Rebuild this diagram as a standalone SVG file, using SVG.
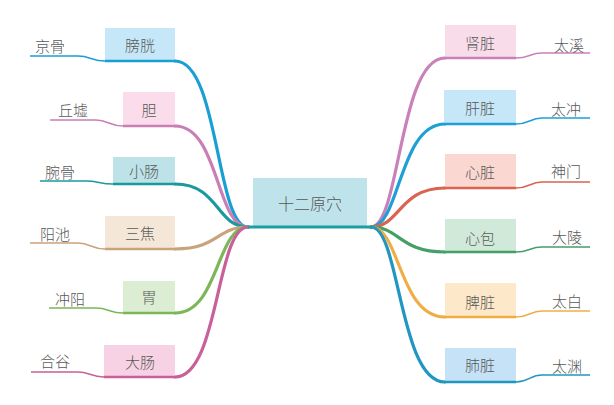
<svg xmlns="http://www.w3.org/2000/svg" width="614" height="405" viewBox="0 0 614 405">
<style>
text{font-family:"Noto Sans CJK SC","Noto Sans",sans-serif;font-size:15px;font-weight:300;fill:#595959;text-anchor:middle;dominant-baseline:central}
.c{fill:none;stroke-width:3.2;stroke-linecap:round}
.u{fill:none;stroke-width:2.6}
.l{fill:none;stroke-width:1.6}
</style>
<rect width="614" height="405" fill="#fff"/>
<g id="connectors">
<!-- left -->
<path class="c" stroke="#1a9fd4" d="M248,227 C216,227 219,61 175,61"/>
<path class="c" stroke="#c97fb5" d="M248,227 C216,227 219,126 175,126"/>
<path class="c" stroke="#1a9a9f" d="M248,227 C216,227 219,184 175,184"/>
<path class="c" stroke="#c9a37b" d="M248,227 C216,227 219,249 175,249"/>
<path class="c" stroke="#7bb757" d="M248,227 C216,227 219,313 175,313"/>
<path class="c" stroke="#c8609a" d="M248,227 C216,227 219,377 175,377"/>
<!-- right -->
<path class="c" stroke="#c981b9" d="M371,227 C400,227 399,58 445,58"/>
<path class="c" stroke="#1ea0d6" d="M371,227 C400,227 399,124 445,124"/>
<path class="c" stroke="#d9644f" d="M371,227 C400,227 399,188 445,188"/>
<path class="c" stroke="#44a067" d="M371,227 C400,227 399,252 445,252"/>
<path class="c" stroke="#efae45" d="M371,227 C400,227 399,317 445,317"/>
<path class="c" stroke="#2096c0" d="M371,227 C400,227 399,382 445,382"/>
<!-- lead lines left -->
<path class="l" stroke="#1a9fd4" d="M105,61 C92,61 90,56 78,56 L30,56"/>
<path class="l" stroke="#c97fb5" d="M123,126 C110,126 108,120 96,120 L50,120"/>
<path class="l" stroke="#1a9a9f" d="M113,184 C100,184 98,181 86,181 L40,181"/>
<path class="l" stroke="#c9a37b" d="M105,249 C92,249 90,243 78,243 L30,243"/>
<path class="l" stroke="#7bb757" d="M123,313 C110,313 108,308 96,308 L49,308"/>
<path class="l" stroke="#c8609a" d="M104,377 C91,377 89,372 78,372 L31,372"/>
<!-- lead lines right -->
<path class="l" stroke="#c981b9" d="M516,58 C529,58 530,53 542,53 L590,53"/>
<path class="l" stroke="#1ea0d6" d="M516,124 C529,124 530,118 542,118 L590,118"/>
<path class="l" stroke="#d9644f" d="M516,188 C529,188 530,182 542,182 L590,182"/>
<path class="l" stroke="#44a067" d="M516,252 C529,252 530,247 542,247 L590,247"/>
<path class="l" stroke="#efae45" d="M516,317 C529,317 530,311 542,311 L590,311"/>
<path class="l" stroke="#2096c0" d="M516,382 C529,382 530,375 542,375 L590,375"/>
</g>
<g id="center">
<rect x="253" y="178" width="114" height="49" fill="#bfe3eb"/>
<line x1="248" y1="227" x2="372" y2="227" stroke="#1e9ea3" stroke-width="3"/>
<text x="310" y="203" style="font-size:16px">十二原穴</text>
</g>
<g id="n-pangguang">
<rect x="105" y="28" width="70" height="33" fill="#c6e7f8"/>
<line class="u" stroke="#1a9fd4" x1="105" y1="61" x2="176" y2="61"/>
<text x="140" y="44">膀胱</text>
<text x="50" y="45">京骨</text>
</g>
<g id="n-dan">
<rect x="123" y="92" width="52" height="34" fill="#fadcea"/>
<line class="u" stroke="#c97fb5" x1="123" y1="126" x2="176" y2="126"/>
<text x="149" y="109">胆</text>
<text x="73" y="109">丘墟</text>
</g>
<g id="n-xiaochang">
<rect x="113" y="157" width="62" height="27" fill="#bde2e8"/>
<line class="u" stroke="#1a9a9f" x1="113" y1="184" x2="176" y2="184"/>
<text x="144" y="170">小肠</text>
<text x="60" y="171">腕骨</text>
</g>
<g id="n-sanjiao">
<rect x="105" y="216" width="70" height="33" fill="#f5e7d8"/>
<line class="u" stroke="#c9a37b" x1="105" y1="249" x2="176" y2="249"/>
<text x="140" y="232">三焦</text>
<text x="55" y="233">阳池</text>
</g>
<g id="n-wei">
<rect x="123" y="281" width="52" height="32" fill="#dbedd2"/>
<line class="u" stroke="#7bb757" x1="123" y1="313" x2="176" y2="313"/>
<text x="149" y="296">胃</text>
<text x="70" y="298">冲阳</text>
</g>
<g id="n-dachang">
<rect x="104" y="345" width="71" height="32" fill="#f7d2e4"/>
<line class="u" stroke="#c8609a" x1="104" y1="377" x2="176" y2="377"/>
<text x="140" y="361">大肠</text>
<text x="55" y="360">合谷</text>
</g>
<g id="n-shenzang">
<rect x="445" y="25" width="71" height="33" fill="#f9dcea"/>
<line class="u" stroke="#c981b9" x1="444" y1="58" x2="516" y2="58"/>
<text x="480" y="42">肾脏</text>
<text x="569" y="44">太溪</text>
</g>
<g id="n-ganzang">
<rect x="444" y="90" width="72" height="34" fill="#c6e7f8"/>
<line class="u" stroke="#1ea0d6" x1="444" y1="124" x2="516" y2="124"/>
<text x="480" y="107">肝脏</text>
<text x="566" y="108">太冲</text>
</g>
<g id="n-xinzang">
<rect x="445" y="154" width="71" height="34" fill="#fbd7d1"/>
<line class="u" stroke="#d9644f" x1="444" y1="188" x2="516" y2="188"/>
<text x="480" y="171">心脏</text>
<text x="566" y="170">神门</text>
</g>
<g id="n-xinbao">
<rect x="445" y="219" width="71" height="33" fill="#d0e9d8"/>
<line class="u" stroke="#44a067" x1="444" y1="252" x2="516" y2="252"/>
<text x="480" y="237">心包</text>
<text x="567" y="236">大陵</text>
</g>
<g id="n-pizang">
<rect x="445" y="283" width="71" height="34" fill="#fde9c9"/>
<line class="u" stroke="#efae45" x1="444" y1="317" x2="516" y2="317"/>
<text x="480" y="301">脾脏</text>
<text x="567" y="300">太白</text>
</g>
<g id="n-feizang">
<rect x="445" y="348" width="71" height="34" fill="#c5e2f6"/>
<line class="u" stroke="#2096c0" x1="444" y1="382" x2="516" y2="382"/>
<text x="480" y="364">肺脏</text>
<text x="567" y="365">太渊</text>
</g>
</svg>
